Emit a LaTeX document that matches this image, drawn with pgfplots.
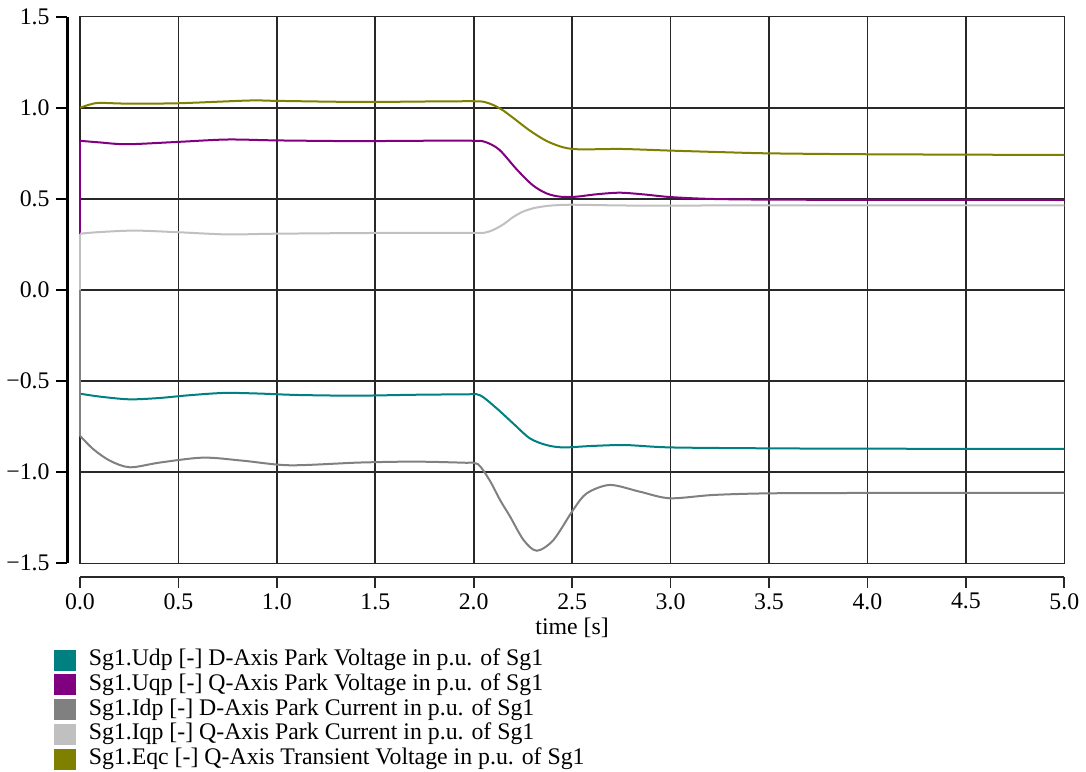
\documentclass[border=0pt]{standalone}
\usepackage{fontspec}
\setmainfont{Liberation Serif}
\usepackage{pgfplots}
\pgfplotsset{compat=1.18}
\definecolor{cUdp}{RGB}{0,128,128}
\definecolor{cUqp}{RGB}{128,0,128}
\definecolor{cIdp}{RGB}{128,128,128}
\definecolor{cIqp}{RGB}{192,192,192}
\definecolor{cEqc}{RGB}{128,128,0}
\definecolor{gridc}{RGB}{40,40,40}
\begin{document}
\begin{tikzpicture}[font=\fontsize{11.9}{14}\selectfont]
\begin{axis}[
  name=ax, clip=false,
  scale only axis, width=492.15pt, height=273.3pt,
  xmin=0, xmax=5, ymin=-1.5, ymax=1.5,
  xtick={0,0.5,1,1.5,2,2.5,3,3.5,4,4.5,5},
  xticklabels={0.0,0.5,1.0,1.5,2.0,2.5,3.0,3.5,4.0,4.5,5.0},
  ytick={-1.5,-1,-0.5,0,0.5,1,1.5},
  yticklabels={−1.5,−1.0,−0.5,0.0,0.5,1.0,1.5},
  xtick pos=bottom, ytick pos=left,
  grid=major, major grid style={gridc, line width=0.8pt},
  axis line style={gridc, line width=0.8pt},
  tick align=outside, major tick length=5.5pt,
  xtick style={gridc, line width=0.9pt, yshift=-7pt},
  ytick style={black, line width=1.1pt, xshift=-6.3pt},
  xticklabel style={anchor=north, inner sep=0pt, yshift=-9.3pt},
  yticklabel style={anchor=east, inner sep=0pt, xshift=-9.5pt},
  xlabel={time [s]},
  xlabel style={at={(rel axis cs:0.5,0)}, anchor=center, yshift=-32.3pt},
  legend style={at={(rel axis cs:0,0)}, anchor=north west, xshift=-13pt, yshift=-42pt,
    draw=none, fill=none, inner sep=0pt, row sep=0pt, column sep=6.2pt,
    nodes={inner sep=0pt, text height=8.9pt, text depth=3.5pt},
    font=\fontsize{11.9}{14}\selectfont},
  legend cell align=left,
  legend image code/.code={\fill[#1] (0pt,-4.75pt) rectangle (10pt,4.75pt);},
  every axis plot/.append style={line width=1pt},
]
% Udp
\addplot[cUdp, forget plot] coordinates {(0,0) (0,-0.569)};
\addplot[cUdp, smooth, tension=0.5] coordinates {
(0,-0.569) (0.1,-0.585) (0.25,-0.600) (0.4,-0.593) (0.55,-0.578) (0.73,-0.565) (0.9,-0.568)
(1.1,-0.576) (1.4,-0.580) (1.7,-0.575) (1.95,-0.573) (2.03,-0.577) (2.116,-0.649) (2.2,-0.732)
(2.285,-0.814) (2.37,-0.851) (2.455,-0.864) (2.6,-0.856) (2.77,-0.851) (3.0,-0.864) (3.5,-0.869)
(4.0,-0.871) (5.0,-0.872)};
\addlegendentry{Sg1.Udp [-] D-Axis Park Voltage in p.u. of Sg1}
% Uqp
\addplot[cUqp, forget plot] coordinates {(0,0) (0,0.819)};
\addplot[cUqp, smooth, tension=0.5] coordinates {
(0,0.819) (0.1,0.81) (0.24,0.800) (0.5,0.813) (0.75,0.826) (1.0,0.821) (1.4,0.817) (1.7,0.819)
(2.0,0.819) (2.06,0.812) (2.13,0.77) (2.22,0.66) (2.3,0.575) (2.37,0.53) (2.44,0.512) (2.52,0.512)
(2.62,0.525) (2.74,0.534) (2.86,0.525) (3.0,0.51) (3.2,0.5) (3.5,0.496) (4.0,0.495) (5.0,0.495)};
\addlegendentry{Sg1.Uqp [-] Q-Axis Park Voltage in p.u. of Sg1}
% Idp
\addplot[cIdp, forget plot] coordinates {(0,0) (0,-0.800)};
\addplot[cIdp, smooth, tension=0.5] coordinates {
(0,-0.800) (0.068,-0.874) (0.152,-0.937) (0.254,-0.973) (0.406,-0.947) (0.626,-0.920) (0.829,-0.937)
(1.066,-0.962) (1.42,-0.947) (1.7,-0.942) (1.95,-0.948) (2.02,-0.955) (2.08,-1.043) (2.134,-1.153)
(2.185,-1.244) (2.253,-1.372) (2.32,-1.431) (2.405,-1.372) (2.505,-1.207) (2.574,-1.116) (2.692,-1.070)
(2.844,-1.107) (2.996,-1.143) (3.216,-1.125) (3.5,-1.116) (4.0,-1.114) (5.0,-1.114)};
\addlegendentry{Sg1.Idp [-] D-Axis Park Current in p.u. of Sg1}
% Iqp
\addplot[cIqp, forget plot] coordinates {(0,0) (0,0.309)};
\addplot[cIqp, smooth, tension=0.5] coordinates {
(0,0.309) (0.1,0.318) (0.28,0.326) (0.5,0.317) (0.75,0.305) (1.0,0.309) (1.5,0.313) (2.0,0.313)
(2.06,0.316) (2.1,0.33) (2.15,0.36) (2.2,0.40) (2.25,0.43) (2.3,0.448) (2.35,0.458) (2.4,0.464)
(2.5,0.468) (2.75,0.464) (3.0,0.463) (3.5,0.465) (5.0,0.465)};
\addlegendentry{Sg1.Iqp [-] Q-Axis Park Current in p.u. of Sg1}
% Eqc
\addplot[cEqc, smooth, tension=0.5] coordinates {
(0,1.0) (0.05,1.018) (0.1,1.027) (0.24,1.023) (0.5,1.025) (0.86,1.04) (1.0,1.038) (1.42,1.032)
(1.8,1.035) (2.0,1.036) (2.05,1.033) (2.1,1.015) (2.15,0.985) (2.2,0.945) (2.285,0.875) (2.37,0.818)
(2.455,0.783) (2.54,0.772) (2.75,0.774) (3.0,0.765) (3.28,0.756) (3.5,0.750) (4.0,0.745) (5.0,0.741)};
\addlegendentry{Sg1.Eqc [-] Q-Axis Transient Voltage in p.u. of Sg1}
% y ticks on the offset y axis line
\pgfplotsinvokeforeach{-1.5,-1,-0.5,0,0.5,1,1.5}{
  \draw[black, line width=1.1pt] (axis cs:0,#1) ++(-6.3pt,0pt) -- ++(-5.5pt,0pt);
}
\end{axis}
% offset axis lines
\path (ax.south west) ++(0pt,-7pt) coordinate (xl0);
\path (ax.south east) ++(0pt,-7pt) coordinate (xl1);
\path (ax.south west) ++(-6.3pt,0pt) coordinate (yl0);
\path (ax.north west) ++(-6.3pt,0pt) coordinate (yl1);
\draw[gridc, line width=0.9pt] (xl0) -- (xl1);
\draw[black, line width=1.1pt] (yl0) -- (yl1);
\pgfresetboundingbox
\path (ax.south west) ++(-40pt,-103.85pt) coordinate (bbA);
\path (ax.south west) ++(503pt,281.65pt) coordinate (bbB);
\useasboundingbox (bbA) rectangle (bbB);
\end{tikzpicture}
\end{document}
